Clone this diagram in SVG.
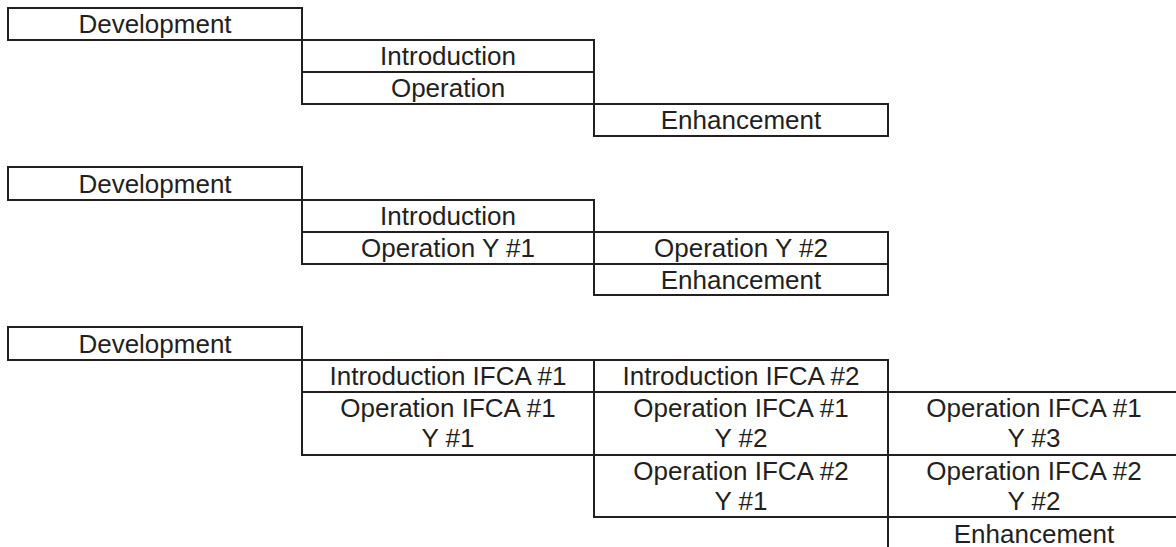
<svg xmlns="http://www.w3.org/2000/svg" width="1176" height="547" viewBox="0 0 1176 547">
<style>
.b{fill:#ffffff;stroke:#231f20;stroke-width:2}
.t{font-family:"Liberation Sans",Arial,sans-serif;font-size:26px;fill:#231f20;text-anchor:middle}
</style>
<rect x="0" y="0" width="1176" height="547" fill="#ffffff"/>
<g id="connectors"/>
<!-- Section 1 -->
<g id="s1-development"><rect class="b" x="8" y="8" width="294" height="32"/><text class="t" x="155" y="33.3">Development</text></g>
<g id="s1-introduction"><rect class="b" x="302" y="40" width="292" height="32"/><text class="t" x="448" y="65.3">Introduction</text></g>
<g id="s1-operation"><rect class="b" x="302" y="72" width="292" height="32"/><text class="t" x="448" y="97.3">Operation</text></g>
<g id="s1-enhancement"><rect class="b" x="594" y="104" width="294" height="32"/><text class="t" x="741" y="129.3">Enhancement</text></g>
<!-- Section 2 -->
<g id="s2-development"><rect class="b" x="8" y="167" width="294" height="33"/><text class="t" x="155" y="192.5">Development</text></g>
<g id="s2-introduction"><rect class="b" x="302" y="200" width="292" height="32"/><text class="t" x="448" y="225.3">Introduction</text></g>
<g id="s2-operation-y1"><rect class="b" x="302" y="232" width="292" height="32"/><text class="t" x="448" y="257.3">Operation Y #1</text></g>
<g id="s2-operation-y2"><rect class="b" x="594" y="232" width="294" height="32"/><text class="t" x="741" y="257.3">Operation Y #2</text></g>
<g id="s2-enhancement"><rect class="b" x="594" y="264" width="294" height="31"/><text class="t" x="741" y="288.8">Enhancement</text></g>
<!-- Section 3 -->
<g id="s3-development"><rect class="b" x="8" y="327" width="294" height="33"/><text class="t" x="155" y="352.5">Development</text></g>
<g id="s3-introduction-ifca1"><rect class="b" x="302" y="360" width="292" height="32"/><text class="t" x="448" y="385.3">Introduction IFCA #1</text></g>
<g id="s3-introduction-ifca2"><rect class="b" x="594" y="360" width="294" height="32"/><text class="t" x="741" y="385.3">Introduction IFCA #2</text></g>
<g id="s3-operation-ifca1-y1"><rect class="b" x="302" y="392" width="292" height="63"/><text class="t" x="448" y="416.7">Operation IFCA #1</text><text class="t" x="448" y="447.3">Y #1</text></g>
<g id="s3-operation-ifca1-y2"><rect class="b" x="594" y="392" width="294" height="63"/><text class="t" x="741" y="416.7">Operation IFCA #1</text><text class="t" x="741" y="447.3">Y #2</text></g>
<g id="s3-operation-ifca1-y3"><rect class="b" x="888" y="392" width="292" height="63"/><text class="t" x="1034" y="416.7">Operation IFCA #1</text><text class="t" x="1034" y="447.3">Y #3</text></g>
<g id="s3-operation-ifca2-y1"><rect class="b" x="594" y="455" width="294" height="62"/><text class="t" x="741" y="479.7">Operation IFCA #2</text><text class="t" x="741" y="510.3">Y #1</text></g>
<g id="s3-operation-ifca2-y2"><rect class="b" x="888" y="455" width="292" height="62"/><text class="t" x="1034" y="479.7">Operation IFCA #2</text><text class="t" x="1034" y="510.3">Y #2</text></g>
<g id="s3-enhancement"><rect class="b" x="888" y="517" width="292" height="34"/><text class="t" x="1034" y="543">Enhancement</text></g>
</svg>
